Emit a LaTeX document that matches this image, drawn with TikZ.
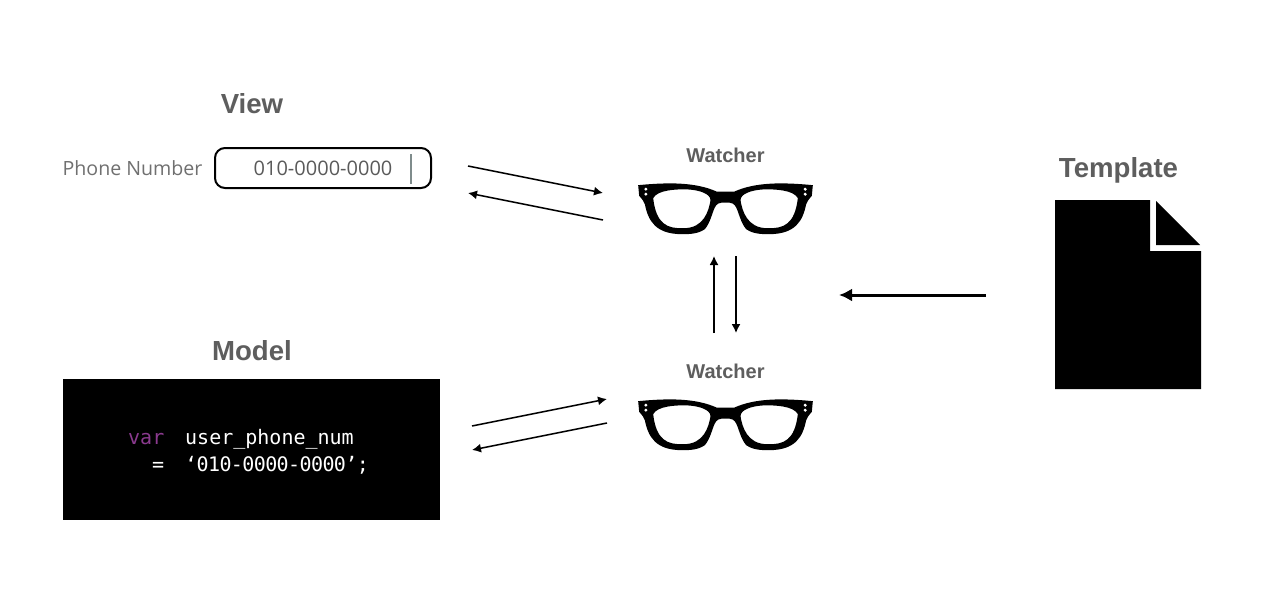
\documentclass[tikz,border=0pt]{standalone}
\usepackage{fontspec}
\setmainfont{Liberation Sans}
\newfontfamily\uifont{Open Sans}
\newfontfamily\codefont{DejaVu Sans Mono}
\definecolor{titlegray}{HTML}{5E5E5E}
\definecolor{labelgray}{HTML}{707070}
\definecolor{valuegray}{HTML}{5A5A5A}
\definecolor{varpurple}{HTML}{8A3A8E}
\definecolor{cursorgray}{HTML}{7F8C8C}
\usetikzlibrary{arrows.meta}
\tikzset{
  x=1pt,y=-1pt,
  title/.style={font=\bfseries\fontsize{27.6}{30}\selectfont,text=titlegray,inner sep=0pt},
  watchertitle/.style={font=\bfseries\fontsize{20}{24}\selectfont,text=titlegray,inner sep=0pt},
  code/.style={font=\codefont\fontsize{20}{24}\selectfont,text=white,inner sep=0pt,anchor=base west},
  thinarrow/.style={draw=black,line width=1.5pt,-{Latex[length=9pt,width=9pt]}},
  thickarrow/.style={draw=black,line width=3pt,-{Latex[length=13pt,width=13pt]}},
  pics/glasses/.style={code={
    \begin{scope}[x=0.3333pt,y=-0.3333pt]
      \fill[black,even odd rule]
        (-262,-67) .. controls (-170,-76) and (-90,-76) .. (-27,-48)
        -- (27,-48) .. controls (90,-76) and (170,-76) .. (262,-67)
        -- (259,-35) .. controls (250,-25) and (245,-18) .. (242,-10)
        .. controls (232,40) and (210,80) .. (130,80)
        .. controls (90,81) and (72,72) .. (62,65)
        .. controls (45,45) and (40,15) .. (32,0)
        .. controls (26,-12) and (20,-15) .. (0,-15)
        .. controls (-20,-15) and (-26,-12) .. (-32,0)
        .. controls (-40,15) and (-45,45) .. (-62,65)
        .. controls (-72,72) and (-90,81) .. (-130,80)
        .. controls (-210,80) and (-232,40) .. (-242,-10)
        .. controls (-245,-18) and (-250,-25) .. (-259,-35) -- cycle
        (-217,-28) .. controls (-205,-52) and (-150,-56) .. (-110,-54)
        .. controls (-80,-52) and (-45,-42) .. (-45,-22)
        .. controls (-50,10) and (-65,62) .. (-125,62)
        .. controls (-175,64) and (-208,50) .. (-217,-28) -- cycle
        (217,-28) .. controls (205,-52) and (150,-56) .. (110,-54)
        .. controls (80,-52) and (45,-42) .. (45,-22)
        .. controls (50,10) and (65,62) .. (125,62)
        .. controls (175,64) and (208,50) .. (217,-28) -- cycle;
      \fill[white] (-239,-55) circle (5) (-239,-40) circle (5) (239,-55) circle (5) (239,-40) circle (5);
    \end{scope}
  }}
}
\begin{document}
\begin{tikzpicture}
\useasboundingbox (0,0) rectangle (1280,589);
\fill[white] (0,0) rectangle (1280,589);

% View
\node[title] (viewtitle) at (252,104) {View};
\node[inner sep=0pt,text=labelgray,font=\uifont\fontsize{19.6}{24}\selectfont] (phonelabel) at (132.5,168.5) {Phone Number};
\node[draw=black,line width=2pt,rounded corners=10pt,minimum width=216pt,minimum height=40pt,inner sep=0pt] (inputbox) at (323,168) {};
\node[inner sep=0pt,text=valuegray,font=\uifont\fontsize{20}{24}\selectfont] (inputtext) at (323,168.5) {010-0000-0000};
\coordinate (cursortop) at (411,154);
\coordinate (cursorbot) at (411,184);
\draw[cursorgray,line width=1.2pt] (cursortop) -- (cursorbot);

% Model
\node[title] (modeltitle) at (252,351) {Model};
\node[fill=black,minimum width=377pt,minimum height=141pt,inner sep=0pt] (modelbox) at (251.5,449.5) {};
\node[code,text=varpurple] (varword) at (128,444) {var};
\node[code] (varname) at (185,444) {user\_phone\_num};
\node[code] (eqsign) at (152,471) {=};
\node[code] (varvalue) at (185,471) {\addfontfeatures{LetterSpace=-3}‘010-0000-0000’;};

% Watchers
\node[watchertitle] (watcher1title) at (725.5,155.5) {Watcher};
\pic (watcher1) at (725.5,207.5) {glasses};
\node[watchertitle] (watcher2title) at (725.5,371.5) {Watcher};
\pic (watcher2) at (725.5,423.5) {glasses};

% Template
\node[title] (templatetitle) at (1118.5,170.5) {Template};
\fill[black] (1055,200) -- (1150,200) -- (1150,251) -- (1201,251) -- (1201,389) -- (1055,389) -- cycle;
\fill[black] (1156,201) -- (1200,245) -- (1156,245) -- cycle;

% Arrows
\coordinate (a1s) at (468,166); \coordinate (a1e) at (603,193);
\coordinate (a2s) at (603,220); \coordinate (a2e) at (468,193);
\coordinate (a3s) at (472,426); \coordinate (a3e) at (607,399);
\coordinate (a4s) at (607,423); \coordinate (a4e) at (472,450);
\coordinate (a5s) at (714,333); \coordinate (a5e) at (714,256);
\coordinate (a6s) at (736,256); \coordinate (a6e) at (736,333);
\coordinate (a7s) at (986,295); \coordinate (a7e) at (839,295);
\draw[thinarrow] (a1s) -- (a1e);
\draw[thinarrow] (a2s) -- (a2e);
\draw[thinarrow] (a3s) -- (a3e);
\draw[thinarrow] (a4s) -- (a4e);
\draw[thinarrow] (a5s) -- (a5e);
\draw[thinarrow] (a6s) -- (a6e);
\draw[thickarrow] (a7s) -- (a7e);
\end{tikzpicture}
\end{document}
